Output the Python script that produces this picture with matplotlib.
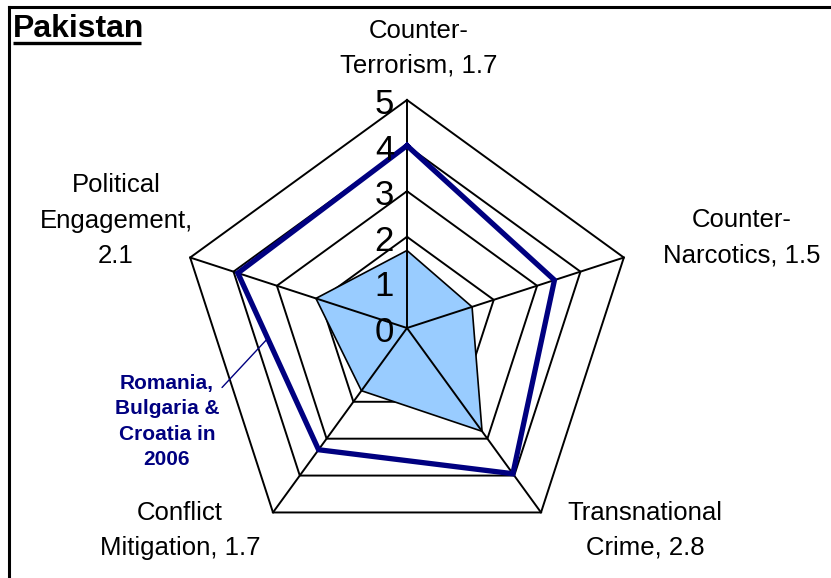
import numpy as np
import matplotlib.pyplot as plt
from matplotlib.lines import Line2D

# Chart data
categories = ["Counter-Terrorism", "Counter-Narcotics", "Transnational Crime",
              "Conflict Mitigation", "Political Engagement"]
pakistan = [1.7, 1.5, 2.8, 1.7, 2.1]
reference = [4.0, 3.4, 3.95, 3.3, 3.9]   # Romania, Bulgaria & Croatia in 2006
levels = [0, 1, 2, 3, 4, 5]
label_texts = ["Counter-\nTerrorism, 1.7", "Counter-\nNarcotics, 1.5",
               "Transnational\nCrime, 2.8", "Conflict\nMitigation, 1.7",
               "Political\nEngagement,\n2.1"]

plt.rcParams['font.family'] = ['Liberation Sans', 'DejaVu Sans']

W, H = 831, 578
fig = plt.figure(figsize=(W / 100, H / 100), dpi=100)

# radar centre (407, 328) px, radius 228 px
cx, cy, R = 407, 328, 228
ax = fig.add_axes([(cx - R) / W, (H - cy - R) / H, 2 * R / W, 2 * R / H],
                  projection='polar')
ax.set_theta_offset(np.pi / 2)
ax.set_theta_direction(-1)
ax.set_ylim(0, max(levels))
ax.axis('off')

n = len(categories)
theta = np.arange(n) * 2 * np.pi / n
theta_c = np.r_[theta, theta[0]]

# pentagon gridlines
for lvl in levels[1:]:
    ax.plot(theta_c, [lvl] * (n + 1), color='black', lw=1.4, zorder=1,
            clip_on=False)

# Pakistan area
ax.fill(theta_c, np.r_[pakistan, pakistan[0]], facecolor='#99CCFF',
        edgecolor='black', lw=1.2, zorder=2, clip_on=False)

# spokes
for t in theta:
    ax.plot([t, t], [0, max(levels)], color='black', lw=1.4, zorder=3,
            clip_on=False)

# reference line
ax.plot(theta_c, np.r_[reference, reference[0]], color='#000080', lw=3.8,
        zorder=4, solid_joinstyle='miter', clip_on=False)

# radial scale numbers
for lvl in levels:
    ax.annotate(str(lvl), xy=(0, lvl), xytext=(-13, -14),
                textcoords='offset pixels', ha='right', va='baseline',
                fontsize=25, zorder=5)

# category labels (last-line baseline, px)
label_pos = [(419, 73), (742, 262), (645, 555), (180, 555), (116, 263)]
for txt, (x, y) in zip(label_texts, label_pos):
    fig.text(x / W, 1 - y / H, txt, ha='center', va='baseline',
             fontsize=18.5, linespacing=1.6)

# leader line to the reference series, a point along its PE -> CM segment
def to_xy(t, r):
    return r * np.sin(t), r * np.cos(t)

p1 = np.array(to_xy(theta[4], reference[4]))
p2 = np.array(to_xy(theta[3], reference[3]))
pt = p1 + 0.37 * (p2 - p1)
pt_theta = np.arctan2(pt[0], pt[1])
pt_r = np.hypot(pt[0], pt[1])
ax.annotate("Romania,\nBulgaria &\nCroatia in\n2006", xy=(pt_theta, pt_r),
            xytext=(167 / W, 1 - 465 / H), textcoords='figure fraction',
            ha='center', va='baseline', fontsize=15, weight='bold',
            color='#000080', linespacing=1.42,
            arrowprops=dict(arrowstyle='-', color='#000080', lw=1,
                            shrinkA=0, shrinkB=0, relpos=(0.96, 0.78)))

# title with underline
title = fig.text(13 / W, 1 - 37 / H, "Pakistan", fontsize=23, weight='bold',
                 ha='left', va='baseline')
fig.canvas.draw()
bb = title.get_window_extent()
uy = 1 - 43 / H
fig.add_artist(Line2D([bb.x0 / W, (bb.x1 - 3) / W], [uy, uy], color='black',
                      lw=2.4, solid_capstyle='butt'))

# outer frame (left and top edges)
fig.add_artist(Line2D([8.7 / W, 8.7 / W], [0, 1 - 6.5 / H], color='black', lw=2.2))
fig.add_artist(Line2D([8.7 / W, 1], [1 - 6.5 / H, 1 - 6.5 / H], color='black', lw=2.2))

fig.savefig("out.png", dpi=100)
